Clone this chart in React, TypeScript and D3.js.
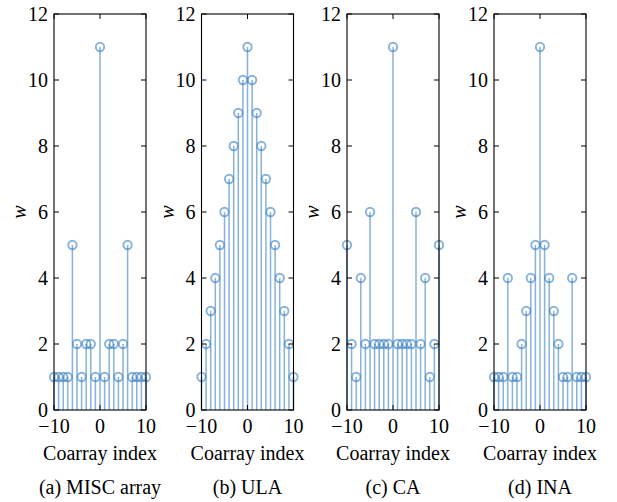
import React from "react";
import * as d3 from "d3";

// Coarray indices shown on every panel
const lags: number[] = d3.range(-10, 11);

// Weight function values w(k) for k = -10..10
const miscWeights: number[] = [1, 1, 1, 1, 5, 2, 1, 2, 2, 1, 11, 1, 2, 2, 1, 2, 5, 1, 1, 1, 1];
const ulaWeights: number[] = [1, 2, 3, 4, 5, 6, 7, 8, 9, 10, 11, 10, 9, 8, 7, 6, 5, 4, 3, 2, 1];
const caWeights: number[] = [5, 2, 1, 4, 2, 6, 2, 2, 2, 2, 11, 2, 2, 2, 2, 6, 2, 4, 1, 2, 5];
const inaWeights: number[] = [1, 1, 1, 4, 1, 1, 2, 3, 4, 5, 11, 5, 4, 3, 2, 1, 1, 4, 1, 1, 1];

const captions: string[] = ["(a) MISC array", "(b) ULA", "(c) CA", "(d) INA"];
const yTicks: number[] = [0, 2, 4, 6, 8, 10, 12];
const xTicks: number[] = [-10, 0, 10];

const W = 617;
const H = 502;
const top = 14;
const bottom = 410;
const panelW = 92;
const panelLefts = [54, 201.5, 347, 494];
const font = "'Liberation Serif', 'Times New Roman', serif";
const stemColor = "#3f82c4";

function Panel({ left, weights, caption }: { left: number; weights: number[]; caption: string }) {
  const x = d3.scaleLinear().domain([-10, 10]).range([left, left + panelW]);
  const y = d3.scaleLinear().domain([0, 12]).range([bottom, top]);
  const tick = 5;
  return (
    <g>
      {/* stems with hollow markers */}
      <g stroke={stemColor} strokeOpacity={0.62} fill="none">
        {lags.map((k, i) => (
          <line key={"s" + k} x1={x(k)} x2={x(k)} y1={y(0)} y2={y(weights[i])} strokeWidth={1.5} />
        ))}
        {lags.map((k, i) => (
          <circle key={"c" + k} cx={x(k)} cy={y(weights[i])} r={4.2} strokeWidth={1.9} />
        ))}
      </g>
      {/* axes box */}
      <rect x={left} y={top} width={panelW} height={bottom - top} fill="none" stroke="#000" strokeWidth={1.1} />
      {yTicks.map((t) => (
        <g key={"y" + t}>
          <line x1={left} x2={left + tick} y1={y(t)} y2={y(t)} stroke="#000" />
          <line x1={left + panelW} x2={left + panelW - tick} y1={y(t)} y2={y(t)} stroke="#000" />
          <text x={left - 6} y={y(t)} dy="0.35em" textAnchor="end" fontSize={20} fontFamily={font}>
            {t}
          </text>
        </g>
      ))}
      {xTicks.map((t) => (
        <g key={"x" + t}>
          <line x1={x(t)} x2={x(t)} y1={bottom} y2={bottom - tick} stroke="#000" />
          <line x1={x(t)} x2={x(t)} y1={top} y2={top + tick} stroke="#000" />
          <text x={x(t)} y={433} textAnchor="middle" fontSize={20} fontFamily={font}>
            {t < 0 ? "\u2212" + Math.abs(t) : t}
          </text>
        </g>
      ))}
      <text x={left + panelW / 2} y={460} textAnchor="middle" fontSize={20} fontFamily={font}>
        Coarray index
      </text>
      <text
        transform={`translate(${left - 28},${(top + bottom) / 2}) rotate(-90)`}
        textAnchor="middle"
        fontSize={20}
        fontStyle="italic"
        fontFamily={font}
      >
        w
      </text>
      <text x={left + panelW / 2} y={494} textAnchor="middle" fontSize={20} fontFamily={font}>
        {caption}
      </text>
    </g>
  );
}

export default function App() {
  const all = [miscWeights, ulaWeights, caWeights, inaWeights];
  return (
    <div style={{ position: "fixed", left: 0, top: 0 }}>
      <svg width={W} height={H} style={{ display: "block", background: "#fff" }}>
        {all.map((w, i) => (
          <Panel key={i} left={panelLefts[i]} weights={w} caption={captions[i]} />
        ))}
      </svg>
    </div>
  );
}
